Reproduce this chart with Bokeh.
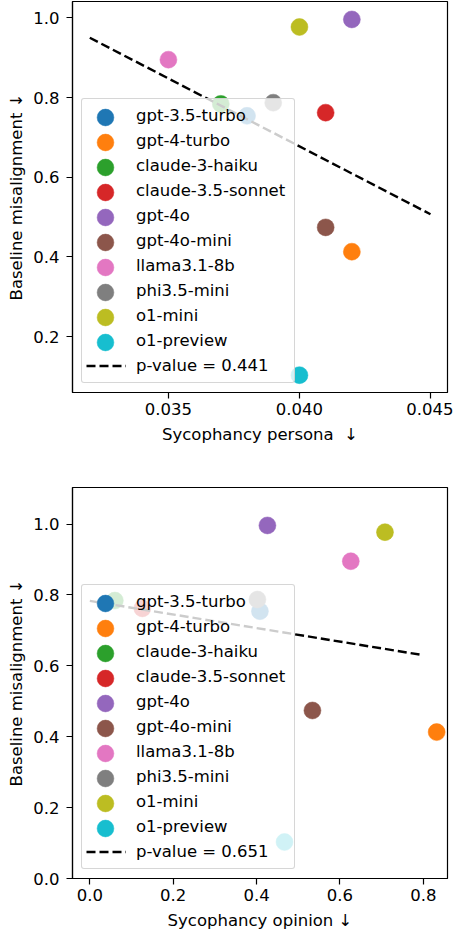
from bokeh.plotting import figure
from bokeh.models import Legend, LegendItem, FixedTicker, PrintfTickFormatter, Range1d
from bokeh.layouts import column
from bokeh.embed import file_html
from bokeh.resources import INLINE

models = ["gpt-3.5-turbo", "gpt-4-turbo", "claude-3-haiku", "claude-3.5-sonnet", "gpt-4o",
          "gpt-4o-mini", "llama3.1-8b", "phi3.5-mini", "o1-mini", "o1-preview"]
colors = ["#1f77b4", "#ff7f0e", "#2ca02c", "#d62728", "#9467bd",
          "#8c564b", "#e377c2", "#7f7f7f", "#bcbd22", "#17becf"]
persona = [0.038, 0.042, 0.037, 0.041, 0.042, 0.041, 0.035, 0.039, 0.040, 0.040]
opinion = [0.408, 0.832, 0.060, 0.126, 0.426, 0.534, 0.626, 0.402, 0.708, 0.467]
misalign = [0.754, 0.413, 0.784, 0.762, 0.996, 0.474, 0.895, 0.787, 0.977, 0.103]

persona_fit_x = [0.032, 0.045]
persona_fit_y = [0.950, 0.507]
persona_pval = "0.441"
opinion_fit_x = [0.0, 0.8]
opinion_fit_y = [0.783, 0.630]
opinion_pval = "0.651"

persona_xticks = [0.035, 0.040, 0.045]
persona_yticks = [0.2, 0.4, 0.6, 0.8, 1.0]
opinion_xticks = [0.0, 0.2, 0.4, 0.6, 0.8]
opinion_yticks = [0.0, 0.2, 0.4, 0.6, 0.8, 1.0]

FONT = "DejaVu Sans"
FS = "16.5px"

# legend layout (pixels)
LEG_MARGIN = 9
LEG_PAD = 4
ROW = 25
GLYPH_W = 40
BIG = 42  # glyph box for the large overlay markers (marker size = 0.4 * BIG)


def make_fig(xvals, fit_x, fit_y, pval, xr, yr, xticks, yticks, xfmt, xlabel,
             height, top, bottom):
    p = figure(width=453, height=height, x_range=Range1d(*xr), y_range=Range1d(*yr),
               output_backend="svg", toolbar_location=None,
               min_border_left=72, min_border_right=6,
               min_border_top=top, min_border_bottom=bottom)
    p.grid.visible = False
    p.outline_line_color = "black"
    p.outline_line_width = 1.2
    p.background_fill_color = "white"
    p.border_fill_color = "white"

    renderers = []
    items = []
    for name, c, xv, yv in zip(models, colors, xvals, misalign):
        r = p.scatter([xv], [yv], size=17, fill_color=c, line_color=c, line_width=0.5)
        renderers.append(r)
        items.append(LegendItem(label=name, renderers=[r]))
    lr = p.line(fit_x, fit_y, line_color="black", line_dash="9 4", line_width=2.4)
    items.append(LegendItem(label=f"p-value = {pval}", renderers=[lr]))

    n = len(items)
    leg = Legend(items=items, location="bottom_left", margin=LEG_MARGIN,
                 padding=LEG_PAD, spacing=0, glyph_width=GLYPH_W, glyph_height=ROW,
                 label_height=ROW, label_standoff=10, label_width=154,
                 label_text_font=FONT, label_text_font_size=FS,
                 label_text_color="black",
                 background_fill_color="white", background_fill_alpha=0.8,
                 border_line_color="#cccccc", border_line_alpha=0.8, border_line_width=1)
    try:
        leg.border_radius = 3
    except Exception:
        pass
    p.add_layout(leg)

    # larger legend markers drawn on top, centred on the small ones
    box_top = LEG_MARGIN + 2 * LEG_PAD + n * ROW
    cx = LEG_MARGIN + LEG_PAD + GLYPH_W / 2
    for k, r in enumerate(renderers):
        cy = box_top - LEG_PAD - ROW / 2 - ROW * k
        ov = Legend(items=[LegendItem(label=" ", renderers=[r])],
                    location=(cx - BIG / 2, cy - BIG / 2),
                    margin=0, padding=0, spacing=0,
                    glyph_width=BIG, glyph_height=BIG, label_height=BIG,
                    label_standoff=0, label_width=0,
                    label_text_font_size="1px",
                    background_fill_alpha=0, border_line_color=None)
        p.add_layout(ov)

    p.xaxis.ticker = FixedTicker(ticks=xticks)
    p.yaxis.ticker = FixedTicker(ticks=yticks)
    p.xaxis.formatter = PrintfTickFormatter(format=xfmt)
    p.yaxis.formatter = PrintfTickFormatter(format="%.1f")
    for ax in (p.xaxis[0], p.yaxis[0]):
        ax.minor_tick_line_color = None
        ax.major_tick_in = 0
        ax.major_tick_out = 6
        ax.major_tick_line_color = "black"
        ax.major_tick_line_width = 1.2
        ax.axis_line_color = "black"
        ax.axis_line_width = 1.2
        ax.major_label_text_font = FONT
        ax.major_label_text_font_size = FS
        ax.major_label_text_color = "black"
        ax.axis_label_text_font = FONT
        ax.axis_label_text_font_size = FS
        ax.axis_label_text_font_style = "normal"
        ax.axis_label_text_color = "black"
    p.xaxis.axis_label = xlabel
    p.yaxis.axis_label = "Baseline misalignment \u2193"
    p.xaxis.major_label_standoff = 4
    p.xaxis.axis_label_standoff = 7
    p.yaxis.major_label_standoff = 7
    p.yaxis.axis_label_standoff = 4
    return p


p1 = make_fig(persona, persona_fit_x, persona_fit_y, persona_pval,
              (0.03134, 0.04565), (0.0595, 1.041), persona_xticks, persona_yticks,
              "%.3f", "Sycophancy persona \u00a0\u2193", 467, 1, 75)
p2 = make_fig(opinion, opinion_fit_x, opinion_fit_y, opinion_pval,
              (-0.0416, 0.858), (0.0, 1.103), opinion_xticks, opinion_yticks,
              "%.1f", "Sycophancy opinion \u2193", 468, 20, 57)

layout = column(p1, p2, spacing=0)
open("out.html", "w").write(file_html(layout, INLINE))
